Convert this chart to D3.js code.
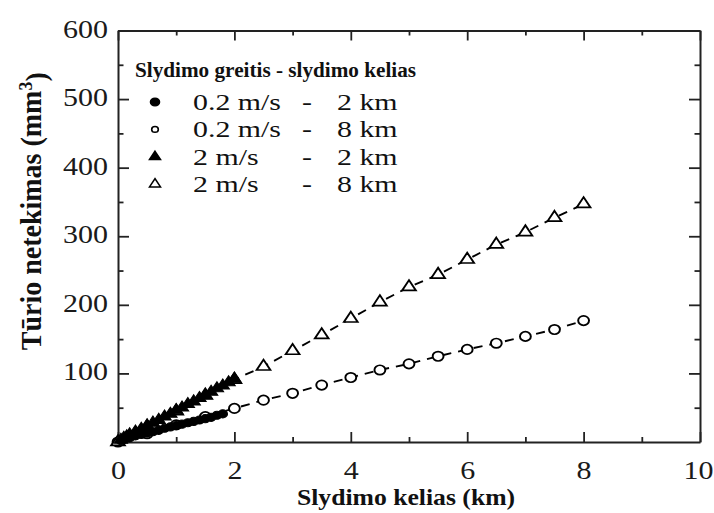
<!DOCTYPE html>
<html>
<head>
<meta charset="utf-8">
<script src="https://cdn.jsdelivr.net/npm/d3@7"></script>
<style>
  html, body { margin: 0; padding: 0; background: #fff; }
  svg { display: block; }
</style>
</head>
<body>
<svg id="chart" width="714" height="513"></svg>
<script>
// Sliding distance (km) and volume loss (mm^3) for each test condition
const slow2kmDist = [0.05, 0.1, 0.2, 0.3, 0.4, 0.5, 0.6, 0.7, 0.8, 0.9, 1.0, 1.1, 1.2, 1.3, 1.4, 1.5, 1.6, 1.7, 1.8];
const slow2kmLoss = [2, 4, 6, 9, 11, 13, 15, 17, 20, 22, 24, 26, 28, 30, 32, 34, 36, 39, 41];

const slow8kmDist = [0, 0.5, 1, 1.5, 2, 2.5, 3, 3.5, 4, 4.5, 5, 5.5, 6, 6.5, 7, 7.5, 8];
const slow8kmLoss = [0, 12, 25, 37, 49, 61, 71, 83, 94, 105, 114, 125, 135, 144, 154, 164, 177];

const fast2kmDist = [0.05, 0.1, 0.15, 0.2, 0.3, 0.4, 0.5, 0.6, 0.7, 0.8, 0.9, 1.0, 1.1, 1.2, 1.3, 1.4, 1.5, 1.6, 1.7, 1.8, 1.9, 2.0];
const fast2kmLoss = [3, 6, 8, 11, 15, 19, 24, 28, 32, 37, 41, 46, 50, 55, 59, 64, 68, 73, 78, 82, 87, 92];

const fast8kmDist = [0, 0.5, 1, 1.5, 2, 2.5, 3, 3.5, 4, 4.5, 5, 5.5, 6, 6.5, 7, 7.5, 8];
const fast8kmLoss = [0, 22, 45, 68, 91, 110, 133, 156, 180, 204, 226, 244, 266, 288, 306, 327, 347];

// Axis ticks
const xMajorTicks = [0, 2, 4, 6, 8, 10];
const xMinorTicks = [1, 3, 5, 7, 9];
const yMajorTicks = [100, 200, 300, 400, 500, 600];
const yMinorTicks = [50, 150, 250, 350, 450, 550];

// Legend
const legendTitle = "Slydimo greitis - slydimo kelias";
const legendSpeeds = ["0.2 m/s", "0.2 m/s", "2 m/s", "2 m/s"];
const legendDists = ["2 km", "8 km", "2 km", "8 km"];

const xTitle = "Slydimo kelias (km)";
const yTitle = "Tūrio netekimas (mm";

const SERIF = '"Liberation Serif", "Times New Roman", Times, serif';
const INK = "#111";
const FRAME = "#222";

const W = 714, H = 513;
const margin = { left: 118, right: 14, top: 30.5, bottom: 71 };
const MARK_SX = 1.15;   // markers are slightly wider than tall

const svg = d3.select("#chart");
const g = svg.append("g");

const x = d3.scaleLinear().domain([0, 10]).range([margin.left, W - margin.right]);
const y = d3.scaleLinear().domain([0, 600]).range([H - margin.bottom, margin.top]);

// text helper: horizontally widened serif text
function addText(parent, tx, ty, str, o) {
  const t = parent.append("text")
    .attr("transform", `translate(${tx},${ty}) scale(${o.sx || 1},1)`)
    .attr("font-family", SERIF)
    .attr("font-size", o.size)
    .attr("font-weight", o.weight || "normal")
    .attr("text-anchor", o.anchor || "start")
    .attr("fill", INK)
    .text(str);
  return t;
}

function styleAxis(sel) {
  sel.attr("font-family", SERIF);
  sel.select(".domain").attr("stroke", FRAME).attr("stroke-width", 2);
  sel.selectAll(".tick line").attr("stroke", FRAME).attr("stroke-width", 1.8);
}

const TICK_SX = 1.2, TICK_FS = 25;
const vLen = 10, hLen = 11, vMin = 5, hMin = 5.5;

// bottom axis with labels
g.append("g").attr("transform", `translate(0,${y(0)})`)
  .call(d3.axisBottom(x).tickValues(xMajorTicks).tickSize(-vLen).tickSizeOuter(0).tickPadding(19).tickFormat(d3.format("d")))
  .call(styleAxis)
  .call(s => s.selectAll(".tick text")
    .attr("font-family", SERIF).attr("font-size", TICK_FS).attr("fill", "#1a1a1a")
    .attr("dy", "0.71em")
    .attr("x", d => d === 10 ? -2 / TICK_SX : 0)
    .attr("transform", `scale(${TICK_SX},1)`));
g.append("g").attr("transform", `translate(0,${y(0)})`)
  .call(d3.axisBottom(x).tickValues(xMinorTicks).tickSize(-vMin).tickFormat(""))
  .call(styleAxis).call(s => s.select(".domain").remove());

// top axis
g.append("g").attr("transform", `translate(0,${y(600)})`)
  .call(d3.axisTop(x).tickValues(xMajorTicks).tickSize(-vLen).tickSizeOuter(0).tickFormat(""))
  .call(styleAxis);
g.append("g").attr("transform", `translate(0,${y(600)})`)
  .call(d3.axisTop(x).tickValues(xMinorTicks).tickSize(-vMin).tickFormat(""))
  .call(styleAxis).call(s => s.select(".domain").remove());

// left axis with labels
g.append("g").attr("transform", `translate(${x(0)},0)`)
  .call(d3.axisLeft(y).tickValues(yMajorTicks).tickSize(-hLen).tickSizeOuter(0).tickPadding(10 / TICK_SX).tickFormat(d3.format("d")))
  .call(styleAxis)
  .call(s => s.selectAll(".tick text")
    .attr("font-family", SERIF).attr("font-size", TICK_FS).attr("fill", "#1a1a1a")
    .attr("dy", "0.26em")
    .attr("transform", `scale(${TICK_SX},1)`));
g.append("g").attr("transform", `translate(${x(0)},0)`)
  .call(d3.axisLeft(y).tickValues(yMinorTicks).tickSize(-hMin).tickFormat(""))
  .call(styleAxis).call(s => s.select(".domain").remove());

// right axis
g.append("g").attr("transform", `translate(${x(10)},0)`)
  .call(d3.axisRight(y).tickValues(yMajorTicks).tickSize(-hLen).tickSizeOuter(0).tickFormat(""))
  .call(styleAxis);
g.append("g").attr("transform", `translate(${x(10)},0)`)
  .call(d3.axisRight(y).tickValues(yMinorTicks).tickSize(-hMin).tickFormat(""))
  .call(styleAxis).call(s => s.select(".domain").remove());

// dashed trend lines through the 8 km runs
const line = d3.line().x(d => x(d[0])).y(d => y(d[1]));
[[slow8kmDist, slow8kmLoss], [fast8kmDist, fast8kmLoss]].forEach(([ds, ls]) => {
  g.append("path")
    .datum(ds.map((d, i) => [d, ls[i]]))
    .attr("d", line)
    .attr("fill", "none")
    .attr("stroke", "#000")
    .attr("stroke-width", 1.9)
    .attr("stroke-dasharray", "9,7");
});

// markers
const series = [
  { dist: slow8kmDist, loss: slow8kmLoss, type: d3.symbolCircle, size: 70, filled: false },
  { dist: fast8kmDist, loss: fast8kmLoss, type: d3.symbolTriangle, size: 62, filled: false },
  { dist: slow2kmDist, loss: slow2kmLoss, type: d3.symbolCircle, size: 52, filled: true },
  { dist: fast2kmDist, loss: fast2kmLoss, type: d3.symbolTriangle, size: 58, filled: true }
];
series.forEach(s => {
  const sym = d3.symbol().type(s.type).size(s.size);
  g.append("g").selectAll("path")
    .data(s.dist.map((d, i) => [d, s.loss[i]]))
    .join("path")
    .attr("transform", d => `translate(${x(d[0])},${y(d[1])}) scale(${MARK_SX},1)`)
    .attr("d", sym)
    .attr("fill", s.filled ? "#000" : "#fff")
    .attr("stroke", "#000")
    .attr("stroke-width", s.filled ? 1 : 1.7);
});

// legend
const legend = g.append("g");
addText(legend, 135, 77, legendTitle, { size: 21, weight: "bold", sx: 1.01 });
const legendSymbols = [
  { type: d3.symbolCircle, size: 48, filled: true },
  { type: d3.symbolCircle, size: 26, filled: false },
  { type: d3.symbolTriangle, size: 40, filled: true },
  { type: d3.symbolTriangle, size: 40, filled: false }
];
legendSpeeds.forEach((sp, i) => {
  const cy = 102 + i * 27.4;
  const sym = legendSymbols[i];
  legend.append("path")
    .attr("transform", `translate(155,${cy}) scale(${MARK_SX},1)`)
    .attr("d", d3.symbol().type(sym.type).size(sym.size))
    .attr("fill", sym.filled ? "#000" : "#fff")
    .attr("stroke", "#000").attr("stroke-width", 1.4);
  addText(legend, 193, cy + 8, sp, { size: 23, sx: 1.3 });
  addText(legend, 302, cy + 8, "-", { size: 23, sx: 1.3 });
  addText(legend, 337, cy + 8, legendDists[i], { size: 23, sx: 1.3 });
});

// axis titles
addText(g, (x(0) + x(10)) / 2 - 3, 505, xTitle, { size: 24, weight: "bold", anchor: "middle", sx: 1.07 });

const yt = g.append("text")
  .attr("transform", `translate(41,${(y(0) + y(600)) / 2 - 25}) scale(1.08,1) rotate(-90)`)
  .attr("text-anchor", "middle")
  .attr("font-family", SERIF)
  .attr("font-size", 28)
  .attr("font-weight", "bold")
  .attr("fill", INK);
yt.append("tspan").text(yTitle);
yt.append("tspan").attr("dy", "-0.45em").attr("font-size", 18).text("3");
yt.append("tspan").attr("dy", "0.45em").text(")");
</script>
</body>
</html>
